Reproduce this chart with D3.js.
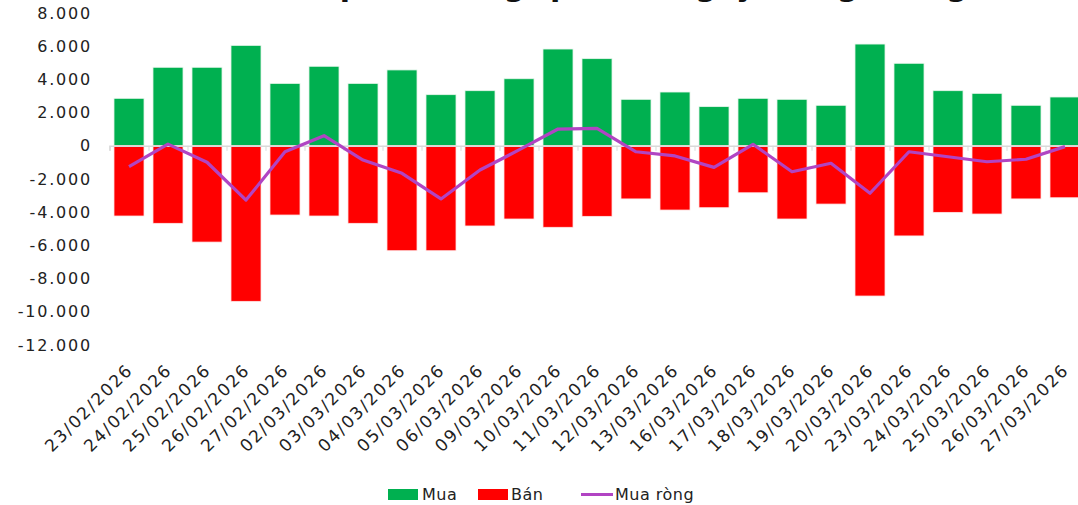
<!DOCTYPE html>
<html>
<head>
<meta charset="utf-8">
<script src="https://cdn.jsdelivr.net/npm/d3@7"></script>
<style>
  body { margin: 0; background: #fff; }
  svg { display: block; font-family: "DejaVu Sans", sans-serif; }
</style>
</head>
<body>
<div class="plot"></div>
<script>
// DATA (ty dong)
var dates = ["23/02/2026", "24/02/2026", "25/02/2026", "26/02/2026", "27/02/2026",
  "02/03/2026", "03/03/2026", "04/03/2026", "05/03/2026", "06/03/2026",
  "09/03/2026", "10/03/2026", "11/03/2026", "12/03/2026", "13/03/2026",
  "16/03/2026", "17/03/2026", "18/03/2026", "19/03/2026", "20/03/2026",
  "23/03/2026", "24/03/2026", "25/03/2026", "26/03/2026", "27/03/2026"];
var mua = [2860, 4730, 4730, 6050, 3760, 4790, 3760, 4570, 3080, 3320,
  4040, 5830, 5250, 2800, 3240, 2360, 2860, 2800, 2440, 6130,
  4970, 3320, 3160, 2440, 2940];
var ban = [-4230, -4670, -5800, -9370, -4170, -4230, -4670, -6320, -6320, -4830,
  -4410, -4910, -4250, -3200, -3870, -3730, -2830, -4410, -3510, -9050,
  -5430, -4010, -4110, -3200, -3130];
var muaRong = [-1260, 100, -990, -3270, -360, 610, -860, -1660, -3200, -1460,
  -250, 1010, 1050, -360, -610, -1300, 90, -1560, -1050, -2860,
  -360, -660, -960, -810, -50];
var yTicks = [8000, 6000, 4000, 2000, 0, -2000, -4000, -6000, -8000, -10000, -12000];

var w = 1078;
var h = 505;

var green = "#00b050";
var red = "#ff0000";
var purple = "#b144c3";

var vn = d3.formatLocale({decimal: ",", thousands: ".", grouping: [3], currency: ["", ""], minus: "-"});
var fmt = vn.format(",.0f");

var svg = d3.select(".plot").append("svg").attr("width", w).attr("height", h);

// SCALES
var xScale = d3.scaleBand()
  .domain(dates)
  .range([109.5, 1084.5])
  .paddingInner(0.23)
  .paddingOuter(0.115);
var yScale = d3.scaleLinear()
  .domain([-12000, 8000])
  .range([345, 13]);
var step = xScale.step();

// title (only its bottom edge shows above the plot)
svg.append("text")
  .attr("x", 600)
  .attr("y", -4)
  .attr("text-anchor", "middle")
  .attr("font-size", "30px")
  .attr("font-weight", "bold")
  .attr("fill", "#111")
  .text("Giao dịch khối ngoại theo ngày trong tháng");

// BARS
svg.selectAll(".mua")
  .data(dates)
  .enter()
  .append("rect")
  .attr("class", "mua")
  .attr("x", function (d) {return xScale(d)})
  .attr("width", xScale.bandwidth())
  .attr("y", function (d, i) {return yScale(mua[i])})
  .attr("height", function (d, i) {return yScale(0) - yScale(mua[i])})
  .attr("fill", green)
  .attr("stroke", "#e8f6ec")
  .attr("stroke-width", 0.8);

svg.selectAll(".ban")
  .data(dates)
  .enter()
  .append("rect")
  .attr("class", "ban")
  .attr("x", function (d) {return xScale(d)})
  .attr("width", xScale.bandwidth())
  .attr("y", yScale(0))
  .attr("height", function (d, i) {return yScale(ban[i]) - yScale(0)})
  .attr("fill", red)
  .attr("stroke", "#ffe6e6")
  .attr("stroke-width", 0.8);

// zero line with tick marks between categories
var edge = d3.scaleLinear().domain([0, dates.length]).range([109.5, 109.5 + step * dates.length]);
var zeroAxis = svg.append("g")
  .attr("transform", "translate(0," + yScale(0) + ")")
  .call(d3.axisBottom(edge).tickValues(d3.range(0, dates.length + 1)).tickSize(5).tickFormat(""));
zeroAxis.selectAll("line").attr("stroke", "#d9d9d9");
zeroAxis.select(".domain").attr("stroke", "#d9d9d9").attr("stroke-width", 1.5);

// LINE
var line = d3.line()
  .x(function (d, i) {return xScale(dates[i]) + xScale.bandwidth() / 2})
  .y(function (d) {return yScale(d)});
svg.append("path")
  .datum(muaRong)
  .attr("d", line)
  .attr("fill", "none")
  .attr("stroke", purple)
  .attr("stroke-width", 3.2)
  .attr("stroke-linejoin", "round");

// Y AXIS (labels only)
var yAxis = svg.append("g")
  .attr("transform", "translate(92,0)")
  .call(d3.axisLeft(yScale).tickValues(yTicks).tickSize(0).tickPadding(0).tickFormat(fmt));
yAxis.select(".domain").remove();
yAxis.selectAll("text")
  .attr("font-family", "DejaVu Sans")
  .attr("font-size", "16px")
  .attr("letter-spacing", "1.8px")
  .attr("fill", "#222");

// X AXIS (rotated dates)
var xAxis = svg.append("g")
  .attr("transform", "translate(0,345)")
  .call(d3.axisBottom(xScale).tickSize(0).tickPadding(0));
xAxis.select(".domain").remove();
xAxis.selectAll("text")
  .attr("font-family", "DejaVu Sans")
  .attr("font-size", "17px")
  .attr("letter-spacing", "1.8px")
  .attr("fill", "#222")
  .attr("text-anchor", "end")
  .attr("dy", 0)
  .attr("y", 0)
  .attr("transform", "translate(5,26) rotate(-45)");

// LEGEND
var legend = svg.append("g").attr("font-size", "16px").attr("fill", "#222");
legend.append("rect").attr("x", 388).attr("y", 489).attr("width", 30).attr("height", 11).attr("fill", green);
legend.append("text").attr("x", 422).attr("y", 500).attr("letter-spacing", "0.5px").text("Mua");
legend.append("rect").attr("x", 478).attr("y", 489).attr("width", 30).attr("height", 11).attr("fill", red);
legend.append("text").attr("x", 511).attr("y", 500).attr("letter-spacing", "0.5px").text("Bán");
legend.append("line").attr("x1", 581).attr("x2", 613).attr("y1", 494.5).attr("y2", 494.5)
  .attr("stroke", purple).attr("stroke-width", 3);
legend.append("text").attr("x", 615).attr("y", 500).attr("letter-spacing", "0.5px").text("Mua ròng");
</script>
</body>
</html>
